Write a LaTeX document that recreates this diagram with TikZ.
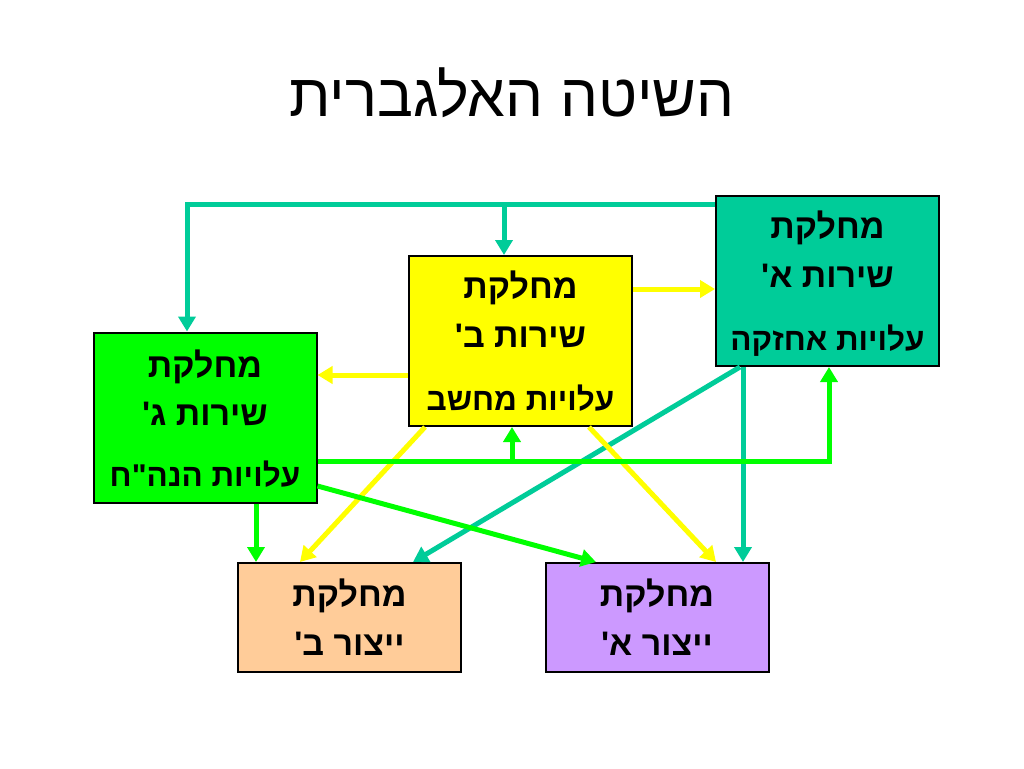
\documentclass[tikz,border=0pt]{standalone}
\usepackage{fontspec}
\usepackage{xcolor}
\usepackage{tikz}
\usetikzlibrary{arrows.meta}
\newfontfamily\hebfont[Script=Hebrew,Ligatures=TeXOff]{Liberation Sans}
\TeXXeTstate=1
\definecolor{tealc}{HTML}{00CC99}
\definecolor{yell}{HTML}{FFFF00}
\definecolor{grn}{HTML}{00FF00}
\definecolor{peach}{HTML}{FFCC99}
\definecolor{lilac}{HTML}{CC99FF}
\pgfdeclarelayer{nodelayer}
\pgfdeclarelayer{edgelayer}
\pgfsetlayers{nodelayer,edgelayer,main}
\tikzset{
    box/.style = {draw=black, line width=2pt, minimum width=223pt, inner sep=0pt},
    tall/.style = {minimum height=170pt},
    short/.style = {minimum height=109pt},
    dept/.style = {anchor=base, inner sep=0pt, font=\hebfont\bfseries\fontsize{34}{40}\selectfont},
    cost/.style = {anchor=base, inner sep=0pt, font=\hebfont\bfseries\fontsize{31.5}{36}\selectfont},
    heading/.style = {anchor=base, inner sep=0pt, font=\hebfont\fontsize{60}{70}\selectfont},
    flow/.style = {line width=5pt, -{Triangle[length=15pt,width=17pt]}}
}
\begin{document}
\begin{tikzpicture}[x=1pt, y=-1pt]
    \begin{pgfonlayer}{nodelayer}
        \fill[white] (0,0) rectangle (1024,768);
        \useasboundingbox (0,0) rectangle (1024,768);
        \node [style=heading] (20) at (512, 116) {\beginR השיטה האלגברית\endR};
        % service departments
        \node [style=box, style=tall, fill=tealc] (0) at (827.5, 281) {};
        \node [style=box, style=tall, fill=yell] (1) at (520.5, 341) {};
        \node [style=box, style=tall, fill=grn] (2) at (205, 417.5) {};
        % production departments
        \node [style=box, style=short, fill=peach] (3) at (349.5, 617.5) {};
        \node [style=box, style=short, fill=lilac] (4) at (657, 617.5) {};
        % box texts
        \node [style=dept] (5) at (827.5, 238) {\beginR מחלקת\endR};
        \node [style=dept] (6) at (827.5, 287) {\beginR שירות א'\endR};
        \node [style=cost] (7) at (827.5, 350) {\beginR עלויות אחזקה\endR};
        \node [style=dept] (8) at (520.5, 298) {\beginR מחלקת\endR};
        \node [style=dept] (9) at (520.5, 347) {\beginR שירות ב'\endR};
        \node [style=cost] (10) at (520.5, 410) {\beginR עלויות מחשב\endR};
        \node [style=dept] (11) at (205, 377) {\beginR מחלקת\endR};
        \node [style=dept] (12) at (205, 425) {\beginR שירות ג'\endR};
        \node [style=cost] (13) at (205, 486) {\beginR עלויות הנה"ח\endR};
        \node [style=dept] (14) at (349.5, 606) {\beginR מחלקת\endR};
        \node [style=dept] (15) at (349.5, 655) {\beginR ייצור ב'\endR};
        \node [style=dept] (16) at (657, 606) {\beginR מחלקת\endR};
        \node [style=dept] (17) at (657, 655) {\beginR ייצור א'\endR};
    \end{pgfonlayer}
    \begin{pgfonlayer}{edgelayer}
        \coordinate (30) at ([yshift=-9pt]0.north west);
        \coordinate (31) at ([yshift=-43.5pt]2.east);
        \coordinate (21) at ([xshift=-16.5pt]1.north);
        \coordinate (22) at ([xshift=-8.5pt]1.south);
        % teal: service A
        \draw [style=flow, tealc] (30) -| ([xshift=-18pt]2.north);
        \draw [style=flow, tealc] (21 |- 30) to (21);
        \draw [style=flow, tealc] ([xshift=-84.5pt]0.south) to ([xshift=86pt]4.north);
        \draw [style=flow, tealc] ([xshift=-87.5pt]0.south) to ([xshift=63.5pt]3.north);
        % yellow: service B
        \draw [style=flow, yell] ([yshift=52pt]1.east) to ([yshift=-8pt]0.west);
        \draw [style=flow, yell] ([yshift=-34pt]1.west) to ([yshift=42.5pt]2.east);
        \draw [style=flow, yell] ([xshift=-95.5pt]1.south) to ([xshift=-49.5pt]3.north);
        \draw [style=flow, yell] ([xshift=68.5pt]1.south) to ([xshift=59pt]4.north);
        % green: service C
        \draw [style=flow, grn] (31) -| ([xshift=1.5pt]0.south);
        \draw [style=flow, grn] (22 |- 31) to (22);
        \draw [style=flow, grn] ([xshift=51pt]2.south) to ([xshift=-93.5pt]3.north);
        \draw [style=flow, grn] ([yshift=-68.5pt]2.east) to ([xshift=-61pt]4.north);
    \end{pgfonlayer}
\end{tikzpicture}
\end{document}
